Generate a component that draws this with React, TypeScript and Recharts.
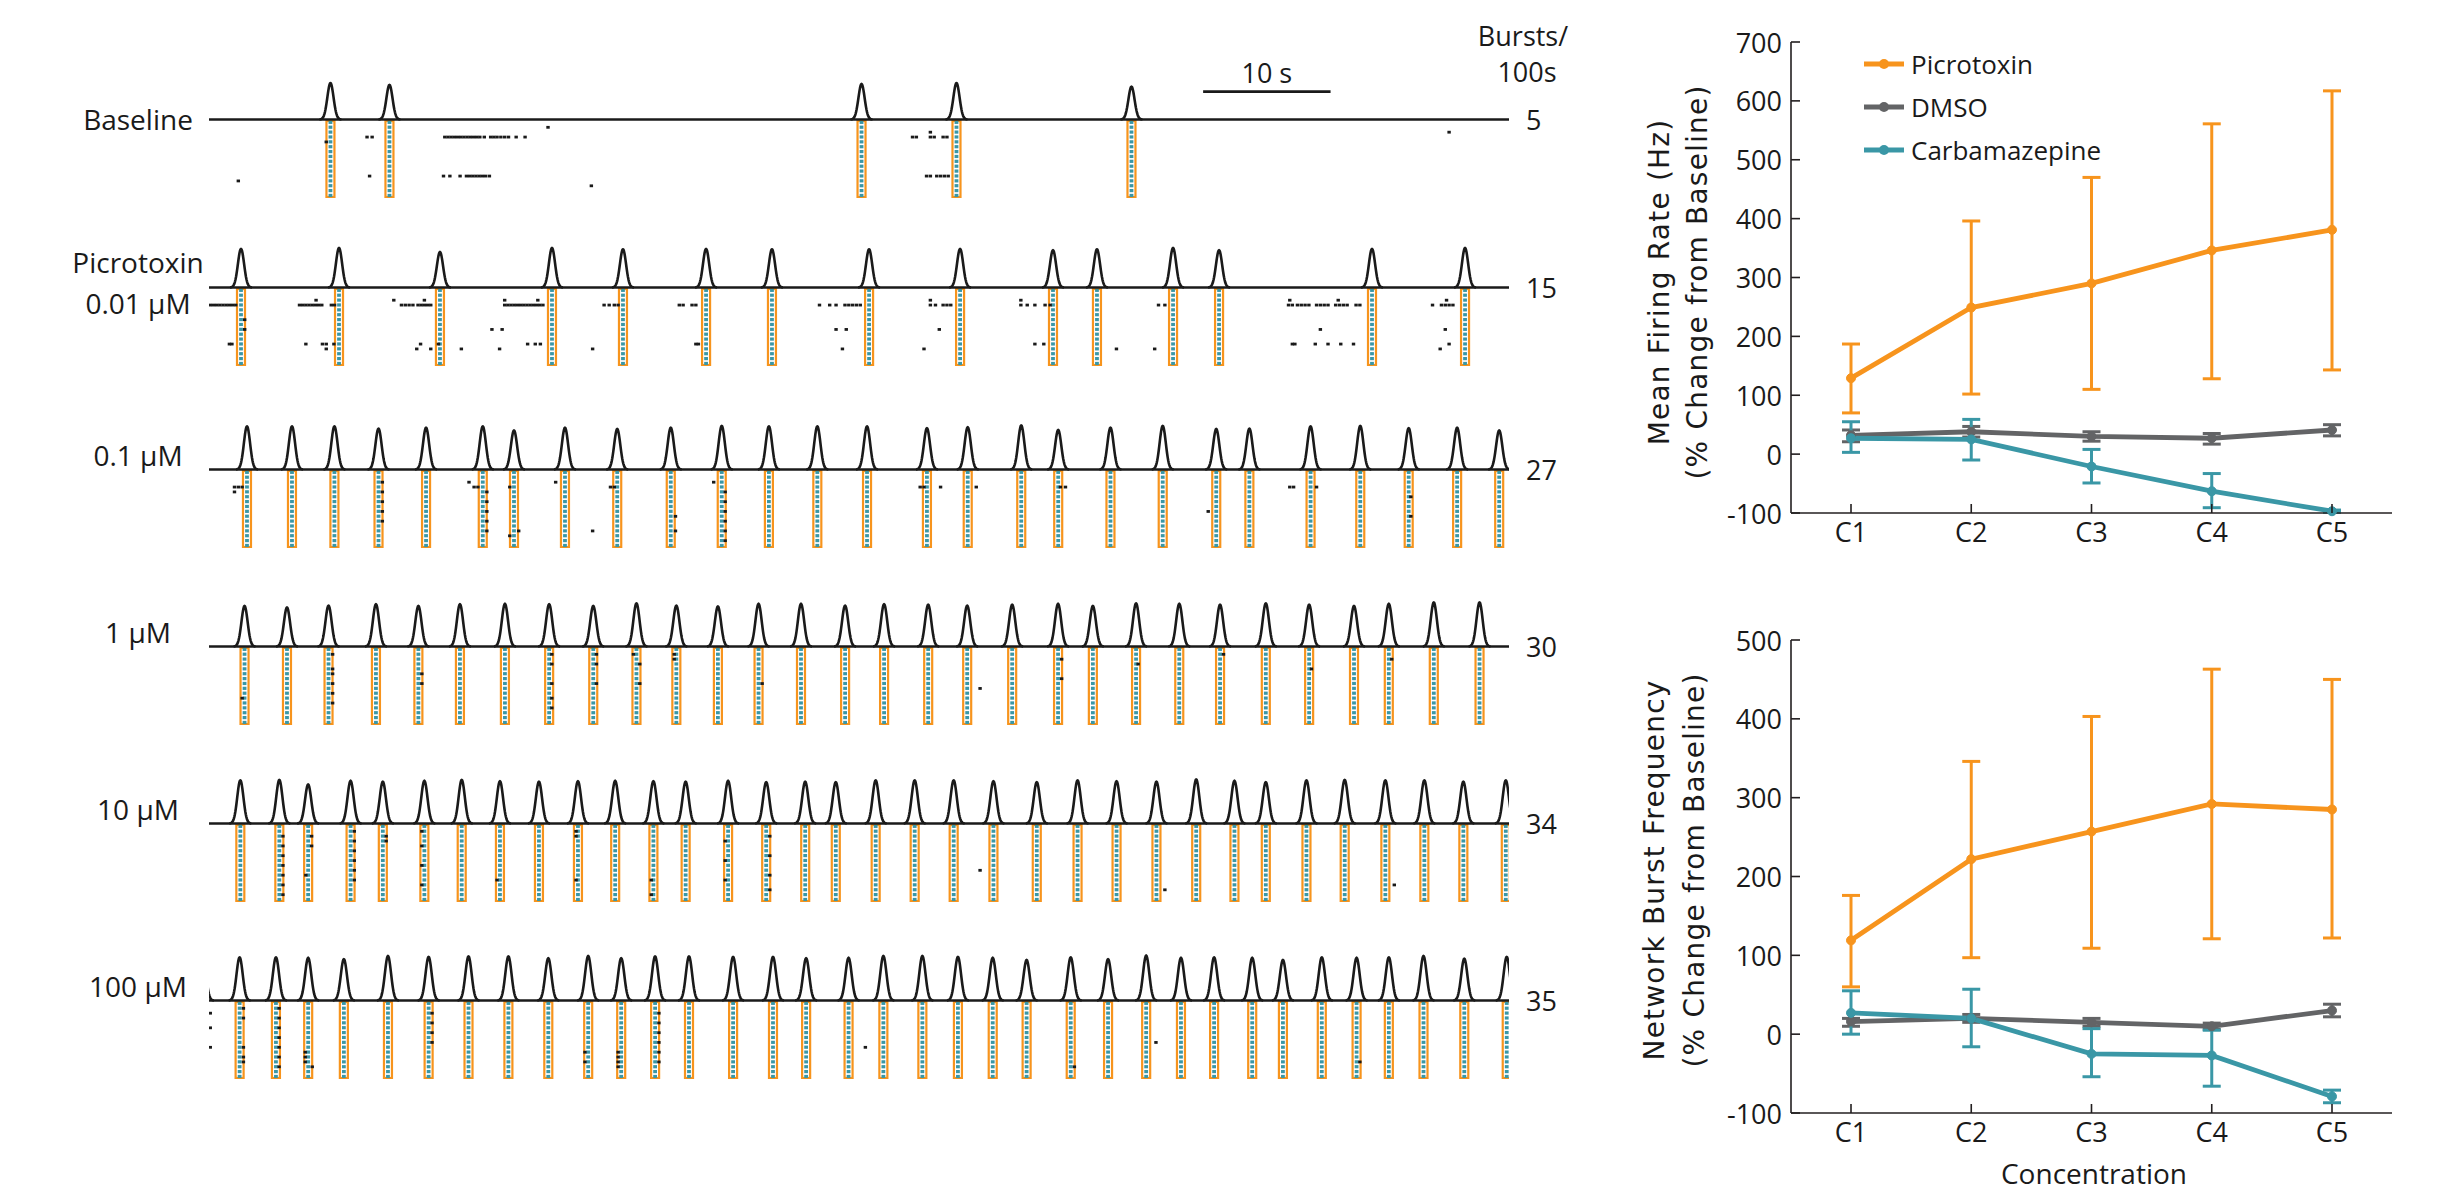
import React from "react";
import {
  ComposedChart,
  ScatterChart,
  Bar,
  Scatter,
  Line,
  XAxis,
  YAxis,
  ReferenceLine,
  ErrorBar,
} from "recharts";

const ORANGE = "#F7941D";
const GREY = "#636466";
const TEAL = "#3A97A6";
const INK = "#1A1A1A";
const AXIS = "#231F20";
const SANS = "'Open Sans', sans-serif";
const WIDE = "'DejaVu Sans', sans-serif";

/* ── Raster rows: burst times (s), peak heights (rel.), spikes [t, channel] ── */
const rowLabels = [["Baseline"], ["Picrotoxin", "0.01 μM"], ["0.1 μM"], ["1 μM"], ["10 μM"], ["100 μM"]];
const burstsPer100s = [5, 15, 27, 30, 34, 35];

const baselineTimes = [9.49, 14.12, 51.16, 58.61, 72.34];
const baselineHeights = [0.81, 0.77, 0.79, 0.81, 0.73];
const baselineSpikes: [number, number][] = [
  [26.6, 1], [12.4, 3], [12.8, 3], [18.5, 3], [18.75, 3], [19.0, 3], [19.25, 3], [19.5, 3], [19.75, 3],
  [20.0, 3], [20.25, 3], [20.5, 3], [20.75, 3], [21.0, 3], [21.25, 3], [21.6, 3], [22.1, 3], [22.35, 3],
  [22.6, 3], [22.9, 3], [23.2, 3], [23.5, 3], [24.1, 3], [24.8, 3], [9.2, 4], [12.6, 11], [18.4, 11],
  [18.9, 11], [19.7, 11], [20.2, 11], [20.45, 11], [20.7, 11], [20.95, 11], [21.2, 11], [21.45, 11],
  [21.7, 11], [22.0, 11], [2.3, 12], [30.0, 13], [97.3, 2], [56.6, 2], [55.2, 3], [55.5, 3], [56.6, 3],
  [56.9, 3], [57.6, 3], [57.9, 3], [56.3, 11], [56.6, 11], [57.1, 11], [57.4, 11], [57.7, 11], [58.0, 11],
];

const picroTimes = [2.51, 10.2, 18.12, 26.91, 32.48, 39.0, 44.17, 51.79, 58.93, 66.22, 69.67, 75.64, 79.25, 91.25, 98.55];
const picroHeights = [0.86, 0.88, 0.79, 0.88, 0.85, 0.86, 0.85, 0.85, 0.86, 0.83, 0.85, 0.88, 0.83, 0.86, 0.88];
const picroSpikes: [number, number][] = [
  [0.1, 3], [0.35, 3], [0.6, 3], [0.85, 3], [1.1, 3], [1.35, 3], [1.6, 3], [1.85, 3], [2.1, 3],
  [7.1, 3], [7.35, 3], [7.6, 3], [7.85, 3], [8.1, 3], [8.35, 3], [8.6, 3], [8.85, 3], [9.6, 3], [9.85, 3],
  [15.1, 3], [15.4, 3], [15.7, 3], [16.0, 3], [16.4, 3], [16.65, 3], [16.9, 3], [17.15, 3], [17.4, 3],
  [23.2, 3], [23.45, 3], [23.7, 3], [23.95, 3], [24.2, 3], [24.45, 3], [24.7, 3], [24.95, 3], [25.2, 3],
  [25.45, 3], [25.7, 3], [25.95, 3], [26.2, 3], [31.0, 3], [31.4, 3], [31.8, 3], [32.1, 3], [36.9, 3],
  [37.2, 3], [37.9, 3], [38.2, 3], [8.4, 2], [14.5, 2], [16.9, 2], [23.2, 2], [25.8, 2], [2.8, 6], [2.8, 8],
  [22.2, 8], [23.0, 8], [1.6, 11], [1.8, 11], [7.6, 11], [8.9, 11], [9.2, 11], [9.8, 11], [16.6, 11],
  [18.0, 11], [25.0, 11], [25.6, 11], [26.0, 11], [38.2, 11], [38.4, 11], [16.3, 12], [17.4, 12],
  [19.8, 12], [22.8, 12], [30.1, 12], [9.2, 12], [47.9, 3], [48.7, 3], [49.2, 3], [49.9, 3], [50.2, 3],
  [50.5, 3], [50.8, 3], [51.1, 3], [56.6, 3], [57.0, 3], [57.6, 3], [57.9, 3], [58.2, 3], [63.7, 3],
  [64.2, 3], [64.8, 3], [65.6, 3], [66.0, 3], [74.5, 3], [75.0, 3], [84.7, 3], [85.0, 3], [85.4, 3],
  [85.7, 3], [86.0, 3], [86.3, 3], [86.9, 3], [87.2, 3], [87.5, 3], [87.8, 3], [88.4, 3], [88.7, 3],
  [89.0, 3], [89.3, 3], [90.0, 3], [90.3, 3], [96.0, 3], [96.7, 3], [97.0, 3], [97.3, 3], [97.6, 3],
  [56.6, 2], [63.7, 2], [84.8, 2], [88.6, 2], [97.1, 2], [49.2, 8], [50.0, 8], [57.3, 8], [87.2, 8],
  [97.0, 8], [64.8, 11], [65.5, 11], [85.0, 11], [85.2, 11], [86.8, 11], [87.8, 11], [88.8, 11],
  [89.8, 11], [97.3, 11], [49.7, 12], [56.1, 12], [71.2, 12], [74.2, 12], [96.6, 12],
];

const p1Times = [2.95, 6.48, 9.81, 13.27, 17.0, 21.45, 23.9, 27.9, 32.0, 36.2, 40.2, 43.9, 47.7, 51.6, 56.3, 59.5, 63.7, 66.6, 70.7, 74.8, 79.0, 81.6, 86.4, 90.3, 94.1, 97.9, 101.2];
const p1Heights = [0.96, 0.96, 0.96, 0.91, 0.93, 0.96, 0.87, 0.93, 0.9, 0.93, 0.97, 0.96, 0.96, 0.96, 0.92, 0.94, 0.98, 0.88, 0.93, 0.97, 0.9, 0.91, 0.96, 0.97, 0.92, 0.93, 0.87];
const p1Spikes: [number, number][] = [
  [2.0, 3], [2.3, 3], [2.6, 3], [2.0, 4], [13.6, 2], [13.6, 4], [13.6, 6], [13.6, 8], [13.6, 10], [20.4, 2],
  [20.8, 3], [21.1, 3], [21.8, 4], [21.8, 6], [21.8, 8], [21.8, 10], [21.8, 12], [23.6, 3], [23.6, 13],
  [24.3, 12], [27.2, 2], [30.1, 12], [31.5, 3], [31.8, 3], [36.6, 9], [36.6, 12], [39.6, 2], [40.5, 4],
  [40.5, 6], [40.5, 8], [40.5, 10], [40.5, 12], [40.5, 14], [55.8, 3], [56.1, 3], [57.4, 3], [60.2, 3],
  [66.8, 3], [67.2, 3], [78.4, 8], [84.8, 3], [85.1, 3], [86.9, 3], [94.3, 5], [94.3, 9],
];

const u1Times = [2.82, 6.15, 9.41, 13.13, 16.46, 19.72, 23.25, 26.72, 30.18, 33.57, 36.7, 39.96, 43.15, 46.48, 49.94, 53.0, 56.46, 59.52, 63.05, 66.65, 69.38, 72.77, 76.16, 79.36, 82.95, 86.35, 89.87, 92.6, 96.13, 99.72];
const u1Heights = [0.9, 0.87, 0.91, 0.94, 0.9, 0.94, 0.95, 0.94, 0.9, 0.96, 0.91, 0.89, 0.95, 0.95, 0.91, 0.94, 0.93, 0.91, 0.93, 0.95, 0.9, 0.96, 0.95, 0.93, 0.96, 0.93, 0.9, 0.95, 0.98, 0.98];
const u1Spikes: [number, number][] = [
  [2.6, 10], [9.7, 1], [9.7, 4], [9.7, 5], [9.7, 7], [9.7, 9], [9.7, 11], [16.7, 5], [16.7, 7], [26.9, 1],
  [26.9, 3], [26.9, 7], [26.9, 10], [26.9, 12], [30.4, 1], [30.4, 3], [30.4, 7], [33.3, 1], [33.8, 3],
  [33.8, 7], [36.5, 1], [36.5, 2], [43.4, 7], [60.5, 8], [66.9, 2], [66.9, 6], [72.9, 3], [79.6, 1],
  [86.5, 4], [92.8, 2],
];

const u10Times = [2.49, 5.55, 7.81, 11.14, 13.67, 16.93, 19.86, 22.86, 25.92, 28.98, 31.9, 34.9, 37.43, 40.76, 43.75, 46.81, 49.21, 52.34, 55.4, 58.46, 61.58, 64.98, 68.18, 71.24, 74.37, 77.49, 80.49, 82.95, 86.14, 89.14, 92.33, 95.39, 98.45, 101.78];
const u10Heights = [0.96, 0.97, 0.87, 0.95, 0.93, 0.95, 0.97, 0.94, 0.93, 0.94, 0.95, 0.94, 0.93, 0.95, 0.92, 0.93, 0.92, 0.96, 0.96, 0.96, 0.94, 0.92, 0.96, 0.94, 0.93, 0.98, 0.95, 0.92, 0.96, 0.97, 0.96, 0.96, 0.93, 0.96];
const u10Spikes: [number, number][] = [
  [5.8, 2], [5.8, 4], [5.8, 6], [5.8, 8], [5.8, 10], [5.8, 12], [5.8, 14], [8.05, 2], [8.05, 4], [7.6, 10],
  [11.4, 1], [11.4, 3], [11.4, 5], [11.4, 7], [11.4, 9], [11.4, 11], [13.9, 2], [13.9, 3], [16.7, 1],
  [16.7, 4], [16.7, 8], [16.7, 12], [22.6, 11], [28.8, 1], [28.8, 2], [28.8, 11], [34.7, 11], [34.7, 14],
  [40.5, 3], [40.5, 7], [40.5, 11], [44.0, 2], [44.0, 6], [44.0, 10], [44.0, 13], [60.5, 9], [75.0, 13],
  [93.0, 12],
];

const u100Times = [-0.45, 2.43, 5.28, 7.81, 10.61, 14.07, 17.26, 20.39, 23.52, 26.65, 29.78, 32.37, 35.03, 37.69, 41.15, 44.28, 46.88, 50.21, 52.94, 56.0, 58.79, 61.52, 64.18, 67.64, 70.57, 73.56, 76.29, 78.89, 81.88, 84.29, 87.34, 90.07, 92.6, 95.32, 98.52, 101.85];
const u100Heights = [0.97, 0.96, 0.96, 0.95, 0.92, 0.99, 0.97, 0.98, 0.98, 0.94, 0.99, 0.94, 0.98, 0.98, 0.97, 0.97, 0.94, 0.95, 0.99, 0.99, 0.97, 0.95, 0.9, 0.96, 0.92, 1.0, 0.95, 0.96, 0.95, 0.9, 0.96, 0.95, 0.96, 0.99, 0.93, 0.97];
const u100Spikes: [number, number][] = [
  [0.1, 2], [0.1, 5], [0.1, 9], [2.7, 1], [2.7, 3], [2.7, 9], [2.7, 11], [2.7, 12], [5.5, 1], [5.5, 3],
  [5.5, 5], [5.5, 7], [5.5, 9], [5.5, 11], [5.5, 13], [7.55, 10], [7.55, 11], [7.55, 12], [8.1, 13],
  [17.5, 2], [17.5, 4], [17.5, 6], [17.5, 8], [29.5, 10], [29.5, 12], [32.1, 10], [32.1, 11], [32.1, 12],
  [32.1, 13], [35.3, 2], [35.3, 4], [35.3, 6], [35.3, 8], [35.3, 10], [35.3, 12], [51.5, 9], [67.9, 13],
  [74.3, 8], [90.3, 12],
];

const rowTimes = [baselineTimes, picroTimes, p1Times, u1Times, u10Times, u100Times];
const rowHeights = [baselineHeights, picroHeights, p1Heights, u1Heights, u10Heights, u100Heights];
const rowSpikes = [baselineSpikes, picroSpikes, p1Spikes, u1Spikes, u10Spikes, u100Spikes];

const N_CH = 16;
const TIME_DOMAIN: [number, number] = [0, 102];
const scaleBarStart = 78;
const scaleBarLength = 10;

/* ── Summary charts ─────────────────────────────────────────── */
const concentrations = ["C1", "C2", "C3", "C4", "C5"];

const mfrPicro = [129, 249, 290, 346, 381];
const mfrPicroLow = [70, 102, 110, 128, 143];
const mfrPicroHigh = [187, 396, 470, 561, 617];
const mfrDmso = [32, 38, 30, 27, 41];
const mfrDmsoLow = [21, 29, 22, 17, 31];
const mfrDmsoHigh = [41, 47, 38, 35, 50];
const mfrCarba = [27, 25, -21, -63, -97];
const mfrCarbaLow = [3, -10, -49, -91, -99];
const mfrCarbaHigh = [55, 59, 8, -33, -95];

const nbfPicro = [119, 222, 257, 292, 285];
const nbfPicroLow = [60, 97, 109, 121, 122];
const nbfPicroHigh = [176, 346, 403, 463, 450];
const nbfDmso = [16, 20, 15, 10, 30];
const nbfDmsoLow = [10, 15, 10, 6, 22];
const nbfDmsoHigh = [20, 25, 20, 14, 38];
const nbfCarba = [27, 20, -25, -27, -79];
const nbfCarbaLow = [0, -16, -54, -66, -87];
const nbfCarbaHigh = [55, 57, 7, 5, -71];

const mfrTicks = [-100, 0, 100, 200, 300, 400, 500, 600, 700];
const nbfTicks = [-100, 0, 100, 200, 300, 400, 500];

const series = [
  { key: "dmso", name: "DMSO", color: GREY },
  { key: "carba", name: "Carbamazepine", color: TEAL },
  { key: "picro", name: "Picrotoxin", color: ORANGE },
];
const legendOrder = ["picro", "dmso", "carba"];

function buildRows(v: Record<string, number[]>, lo: Record<string, number[]>, hi: Record<string, number[]>) {
  return concentrations.map((c, i) => {
    const r: any = { c };
    for (const k of Object.keys(v)) {
      r[k] = v[k][i];
      r[k + "Err"] = [v[k][i] - lo[k][i], hi[k][i] - v[k][i]];
    }
    return r;
  });
}

const mfrData = buildRows(
  { picro: mfrPicro, dmso: mfrDmso, carba: mfrCarba },
  { picro: mfrPicroLow, dmso: mfrDmsoLow, carba: mfrCarbaLow },
  { picro: mfrPicroHigh, dmso: mfrDmsoHigh, carba: mfrCarbaHigh },
);
const nbfData = buildRows(
  { picro: nbfPicro, dmso: nbfDmso, carba: nbfCarba },
  { picro: nbfPicroLow, dmso: nbfDmsoLow, carba: nbfCarbaLow },
  { picro: nbfPicroHigh, dmso: nbfDmsoHigh, carba: nbfCarbaHigh },
);

/* ── layout ─────────────────────────────────────────── */
const X0 = 209;
const W = 1300;
const rowY = [119, 287, 469, 646, 823, 1000];
const PX_PER_UNIT = 45;
const TRACE_PAD = 50;
const TRACE_PLOT = 54; // domain [-0.1, 1.1]
const RASTER_H = 78;

/* burst detection trace: one peak per burst */
function Bump(props: any) {
  const { x, y, width, height } = props;
  if (x == null || !height) return null;
  const cx = x + width / 2;
  const base = y + height;
  const sig = 3.1;
  let d = "";
  for (let i = 0; i <= 44; i++) {
    const dx = -width / 2 + (width * i) / 44;
    const yy = base - height * Math.exp(-(dx * dx) / (2 * sig * sig));
    d += (i ? "L" : "M") + (cx + dx).toFixed(2) + "," + yy.toFixed(2);
  }
  return <path d={d} fill="none" stroke={INK} strokeWidth={2.6} strokeLinejoin="round" />;
}

/* orange burst box with the burst spikes of every channel */
function BurstBox(props: any) {
  const { x, y, width, height } = props;
  if (x == null || !height) return null;
  const top = Math.min(y, y + height);
  const h = Math.abs(height);
  const step = h / N_CH;
  const dots = [];
  for (let i = 0; i < N_CH; i++) {
    dots.push(
      <rect key={i} x={x + width / 2 - 1.9} y={top + i * step + step / 2 - 1.7} width={3.8} height={3.2} fill={TEAL} />,
    );
  }
  return (
    <g>
      <rect x={x} y={top + 1} width={width} height={h - 2} fill="none" stroke={ORANGE} strokeWidth={2.2} />
      {dots}
    </g>
  );
}

function Spike(props: any) {
  const { cx, cy } = props;
  if (cx == null) return null;
  return <rect x={cx - 1.7} y={cy - 1.4} width={3.4} height={2.8} fill={INK} />;
}

function RasterRow({ i }: { i: number }) {
  const bursts = rowTimes[i].map((t, k) => ({ t, h: rowHeights[i][k], n: N_CH }));
  const spikes = rowSpikes[i].map(([t, ch]) => ({ t, ch: ch + 0.5 }));
  const traceH = TRACE_PAD + TRACE_PLOT;
  const traceTop = rowY[i] - 1.1 * PX_PER_UNIT - TRACE_PAD;
  return (
    <>
      <div style={{ position: "absolute", left: X0, top: rowY[i] + 1, width: W, height: RASTER_H }}>
        <ComposedChart width={W} height={RASTER_H} data={bursts} margin={{ top: 0, right: 0, bottom: 0, left: 0 }}>
          <XAxis dataKey="t" type="number" domain={TIME_DOMAIN} allowDataOverflow hide />
          <YAxis type="number" domain={[0, N_CH]} reversed hide />
          <Bar dataKey="n" barSize={8} shape={<BurstBox />} isAnimationActive={false} />
        </ComposedChart>
      </div>
      <div style={{ position: "absolute", left: X0, top: rowY[i] + 1, width: W, height: RASTER_H }}>
        <ScatterChart width={W} height={RASTER_H} margin={{ top: 0, right: 0, bottom: 0, left: 0 }}>
          <XAxis dataKey="t" type="number" domain={TIME_DOMAIN} allowDataOverflow hide />
          <YAxis dataKey="ch" type="number" domain={[0, N_CH]} reversed hide />
          <Scatter data={spikes} shape={<Spike />} isAnimationActive={false} />
        </ScatterChart>
      </div>
      <div style={{ position: "absolute", left: X0, top: traceTop, width: W, height: traceH }}>
        <ComposedChart width={W} height={traceH} data={bursts} margin={{ top: TRACE_PAD, right: 0, bottom: 0, left: 0 }}>
          <XAxis dataKey="t" type="number" domain={TIME_DOMAIN} allowDataOverflow hide />
          <YAxis type="number" domain={[-0.1, 1.1]} allowDataOverflow hide />
          <ReferenceLine y={0} stroke={INK} strokeWidth={2.6} />
          <Bar dataKey="h" barSize={22} shape={<Bump />} isAnimationActive={false} />
          {i === 0 && (
            <ReferenceLine
              segment={[
                { x: scaleBarStart, y: 0.62 },
                { x: scaleBarStart + scaleBarLength, y: 0.62 },
              ]}
              stroke={INK}
              strokeWidth={2.6}
              label={{ value: "10 s", position: "top", offset: 9, fontSize: 27, fill: INK, fontFamily: SANS }}
            />
          )}
        </ComposedChart>
      </div>
    </>
  );
}

/* ticks point into the plot, labels sit outside */
function YTick(props: any) {
  const { x, y, payload } = props;
  return (
    <g>
      <line x1={x + 9} x2={x + 18} y1={y} y2={y} stroke={AXIS} strokeWidth={1.6} />
      <text x={x} y={y} textAnchor="end" dominantBaseline="central" fontFamily={SANS} fontSize={27} fill={INK}>
        {payload.value}
      </text>
    </g>
  );
}

function XTick(props: any) {
  const { x, y, payload } = props;
  return (
    <g>
      <line x1={x} x2={x} y1={y - 10} y2={y - 19} stroke={AXIS} strokeWidth={1.6} />
      <text x={x} y={y} dy="0.72em" textAnchor="middle" fontFamily={SANS} fontSize={27} fill={INK}>
        {payload.value}
      </text>
    </g>
  );
}

function SummaryChart({ data, ticks, top, height, marginTop, marginBottom }: any) {
  const axisStyle = { stroke: AXIS, strokeWidth: 1.6 };
  return (
    <div style={{ position: "absolute", left: 1600, top, width: 859, height }}>
      <ComposedChart width={859} height={height} data={data} margin={{ top: marginTop, right: 67, bottom: marginBottom, left: 101 }}>
        <XAxis
          dataKey="c"
          height={40}
          padding={{ left: 60, right: 60 }}
          tickSize={0}
          tickMargin={10}
          tickLine={false}
          axisLine={axisStyle}
          tick={<XTick />}
          interval={0}
        />
        <YAxis
          type="number"
          domain={[ticks[0], ticks[ticks.length - 1]]}
          ticks={ticks}
          interval={0}
          width={90}
          tickSize={0}
          tickMargin={9}
          tickLine={false}
          axisLine={axisStyle}
          tick={<YTick />}
        />
        {series.map((s) => (
          <Line
            key={s.key}
            dataKey={s.key}
            stroke={s.color}
            strokeWidth={4.8}
            dot={{ r: 4.5, fill: s.color, stroke: s.color, strokeWidth: 1 }}
            isAnimationActive={false}
          >
            <ErrorBar dataKey={s.key + "Err"} width={9} strokeWidth={3} stroke={s.color} direction="y" isAnimationActive={false} />
          </Line>
        ))}
      </ComposedChart>
    </div>
  );
}

export default function App() {
  const legend = legendOrder.map((k) => series.find((s) => s.key === k)!);
  return (
    <div style={{ position: "absolute", left: 0, top: 0, width: 2459, height: 1193, background: "#fff", overflow: "hidden" }}>
      {rowY.map((_, i) => (
        <RasterRow key={i} i={i} />
      ))}

      <SummaryChart data={mfrData} ticks={mfrTicks} top={0} height={560} marginTop={42} marginBottom={7} />
      <SummaryChart data={nbfData} ticks={nbfTicks} top={580} height={613} marginTop={60} marginBottom={40} />

      <svg width={2459} height={1193} style={{ position: "absolute", left: 0, top: 0, pointerEvents: "none" }}>
        <g fontFamily={SANS} fontSize={28} fill={INK}>
          {rowLabels.map((lines, i) =>
            lines.length === 1 ? (
              <text key={i} x={138} y={i === 0 ? rowY[i] : rowY[i] - 14} textAnchor="middle" dominantBaseline="central">
                {lines[0]}
              </text>
            ) : (
              <g key={i}>
                <text x={138} y={rowY[i] - 25} textAnchor="middle" dominantBaseline="central">{lines[0]}</text>
                <text x={138} y={rowY[i] + 16} textAnchor="middle" dominantBaseline="central">{lines[1]}</text>
              </g>
            ),
          )}
          {burstsPer100s.map((n, i) => (
            <text key={i} x={1526} y={rowY[i]} dominantBaseline="central" fontSize={27}>{n}</text>
          ))}
          <text x={1523} y={35} textAnchor="middle" dominantBaseline="central" fontSize={27}>Bursts/</text>
          <text x={1527} y={71} textAnchor="middle" dominantBaseline="central" fontSize={27}>100s</text>
        </g>

        {legend.map((s, i) => (
          <g key={s.key}>
            <line x1={1864} x2={1904} y1={64 + i * 43} y2={64 + i * 43} stroke={s.color} strokeWidth={5} />
            <circle cx={1884} cy={64 + i * 43} r={5} fill={s.color} />
            <text x={1911} y={64 + i * 43} dominantBaseline="central" fontFamily={SANS} fontSize={26} fill={INK}>
              {s.name}
            </text>
          </g>
        ))}

        <g fontFamily={WIDE} fontSize={28} fill={INK} letterSpacing={1.2} textAnchor="middle">
          <text transform="translate(1659,282) rotate(-90)" dominantBaseline="central">Mean Firing Rate (Hz)</text>
          <text transform="translate(1697,282) rotate(-90)" dominantBaseline="central">(% Change from Baseline)</text>
          <text transform="translate(1654,870) rotate(-90)" dominantBaseline="central">Network Burst Frequency</text>
          <text transform="translate(1694,870) rotate(-90)" dominantBaseline="central">(% Change from Baseline)</text>
        </g>
        <text x={2094} y={1173} textAnchor="middle" dominantBaseline="central" fontFamily={SANS} fontSize={28} fill={INK}>
          Concentration
        </text>
      </svg>
    </div>
  );
}
